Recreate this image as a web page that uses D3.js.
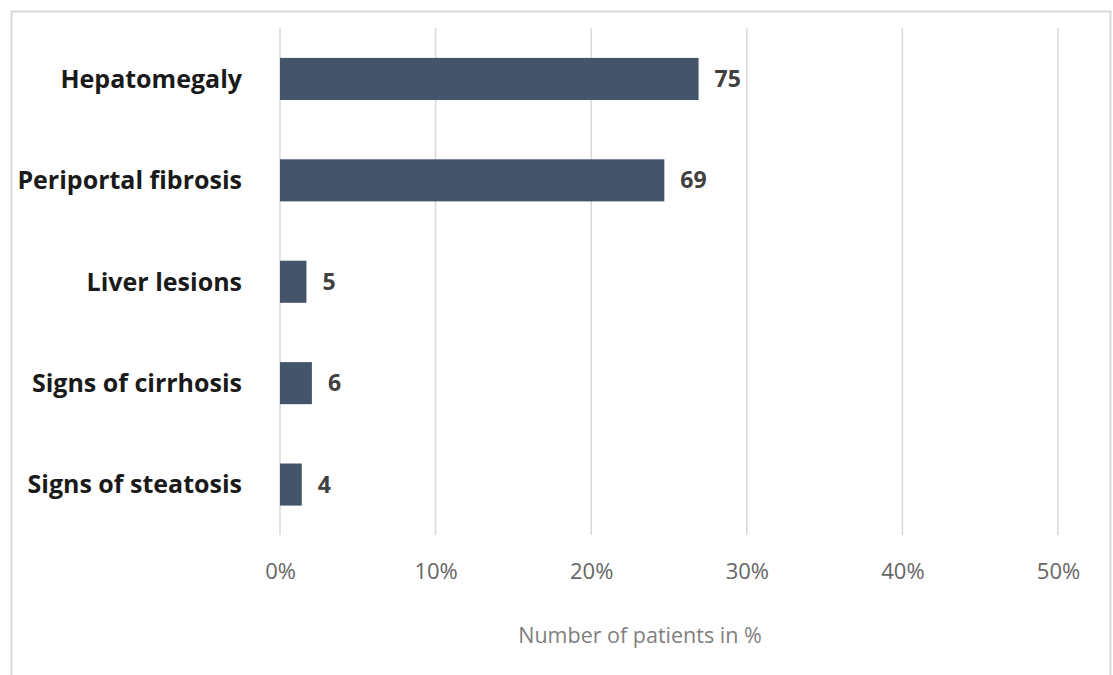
<!DOCTYPE html>
<html lang="en">
<head>
<meta charset="utf-8">
<title>Liver findings</title>
<script src="https://cdn.jsdelivr.net/npm/d3@7"></script>
<style>
  body { margin: 0; background: #fff; }
  .cat { font-family: "Open Sans", sans-serif; font-weight: bold; font-size: 25px; fill: #1a1a1a; }
  .val { font-family: "Open Sans", sans-serif; font-weight: bold; font-size: 23px; fill: #404040; }
  .tick text { font-family: "Open Sans", sans-serif; font-size: 22px; fill: #666; }
  .axTitle { font-family: "Open Sans", sans-serif; font-size: 21.5px; fill: #7f7f7f; }
</style>
</head>
<body>
<div class="chart"></div>
<script>
// categories, share of patients (%) and patient counts
var categories = ["Hepatomegaly", "Periportal fibrosis", "Liver lesions", "Signs of cirrhosis", "Signs of steatosis"];
var percents = [26.9, 24.7, 1.7, 2.05, 1.4];
var counts = [75, 69, 5, 6, 4];
var ticks = [0, 10, 20, 30, 40, 50];

var w = 1113, h = 675;

var svg = d3.select("div.chart").append("svg")
  .attr("width", w)
  .attr("height", h);

// outer frame
svg.append("rect")
  .attr("x", 11.5).attr("y", 11.5)
  .attr("width", 1099).attr("height", 700)
  .attr("fill", "none")
  .attr("stroke", "#d9d9d9")
  .attr("stroke-width", 2);

var x = d3.scaleLinear().domain([0, 50]).range([280, 1058]);
var y = d3.scaleBand().domain(categories).range([28.5, 535]).paddingInner(0.585).paddingOuter(0.29);

// gridlines
svg.append("g").selectAll("line")
  .data(ticks)
  .enter().append("line")
  .attr("x1", d => x(d)).attr("x2", d => x(d))
  .attr("y1", 28).attr("y2", 535)
  .attr("stroke", "#d9d9d9")
  .attr("stroke-width", 1.5);

var xAxis = d3.axisBottom(x).tickValues(ticks).tickSize(0).tickPadding(0).tickFormat(d => d + "%");
svg.append("g")
  .attr("transform", "translate(0,571)")
  .call(xAxis)
  .call(g => g.select(".domain").remove())
  .selectAll("text").attr("dy", "0.35em");

var rows = categories.map((c, i) => ({ cat: c, pct: percents[i], n: counts[i] }));

svg.append("g").selectAll("rect")
  .data(rows)
  .enter().append("rect")
  .attr("x", x(0))
  .attr("y", d => y(d.cat))
  .attr("width", d => x(d.pct) - x(0))
  .attr("height", y.bandwidth())
  .attr("fill", "#44546a");

svg.append("g").selectAll("text")
  .data(rows)
  .enter().append("text")
  .attr("class", "val")
  .attr("x", d => x(d.pct) + 16)
  .attr("y", d => y(d.cat) + y.bandwidth() / 2)
  .attr("dy", "0.35em")
  .text(d => d.n);

svg.append("g").selectAll("text")
  .data(rows)
  .enter().append("text")
  .attr("class", "cat")
  .attr("x", 242)
  .attr("y", d => y(d.cat) + y.bandwidth() / 2)
  .attr("dy", "0.35em")
  .attr("text-anchor", "end")
  .text(d => d.cat);

svg.append("text")
  .attr("class", "axTitle")
  .attr("x", 640)
  .attr("y", 643)
  .attr("text-anchor", "middle")
  .text("Number of patients in %");
</script>
</body>
</html>
